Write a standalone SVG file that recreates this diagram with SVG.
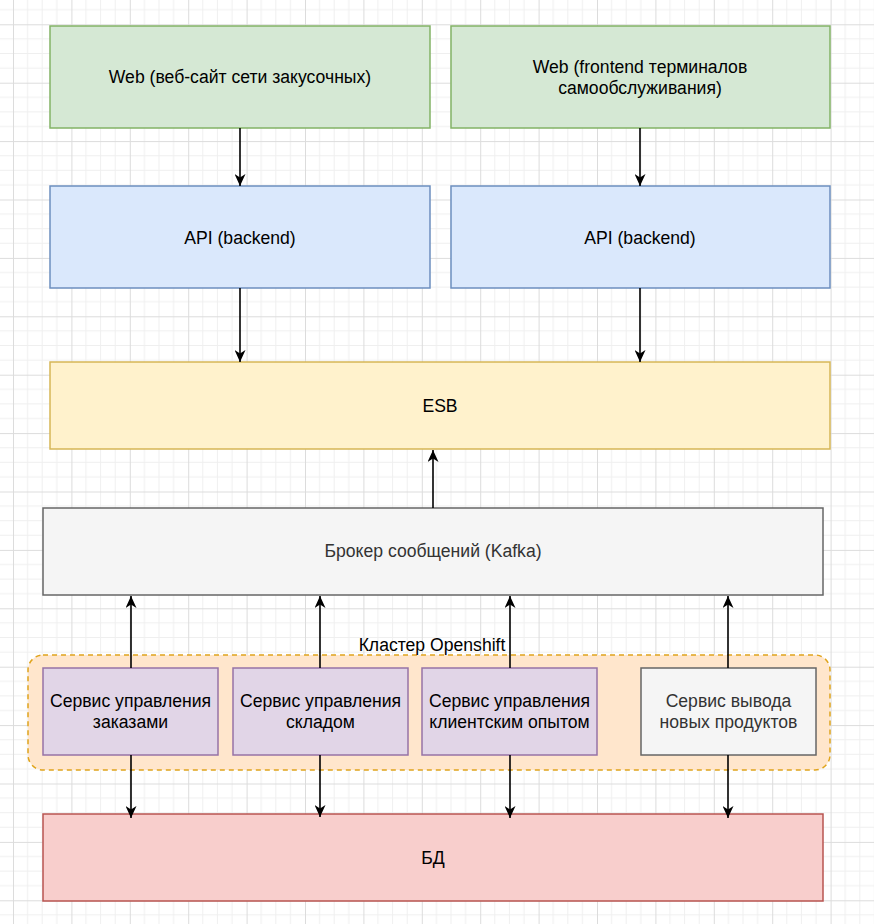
<svg xmlns="http://www.w3.org/2000/svg" width="874" height="924" viewBox="0 0 874 924">
<defs>
<pattern id="grid" x="13" y="24.3" width="58.4" height="58.4" patternUnits="userSpaceOnUse">
<path d="M14.6,0V58.4M29.2,0V58.4M43.8,0V58.4M0,14.6H58.4M0,29.2H58.4M0,43.8H58.4" stroke="#efefef" stroke-width="1" fill="none"/>
<path d="M0.5,0V58.4M0,0.5H58.4" stroke="#dcdcdc" stroke-width="1" fill="none"/>
</pattern>
<marker id="arr" markerUnits="userSpaceOnUse" markerWidth="13" markerHeight="11" viewBox="0 0 13 11" refX="12" refY="5.5" orient="auto-start-reverse">
<path d="M0,0 L12,5.5 L0,11 L3.5,5.5 z" fill="#000"/>
</marker>
<style>
text{font-family:"Liberation Sans",Arial,Helvetica,sans-serif;font-size:17.6px;fill:#000;text-anchor:middle;dominant-baseline:central}
.g{fill:#d5e8d4;stroke:#82b366;stroke-width:1.5}
.b{fill:#dae8fc;stroke:#6c8ebf;stroke-width:1.5}
.y{fill:#fff2cc;stroke:#d6b656;stroke-width:1.5}
.gr{fill:#f5f5f5;stroke:#666;stroke-width:1.5}
.p{fill:#e1d5e7;stroke:#9673a6;stroke-width:1.5}
.r{fill:#f8cecc;stroke:#b85450;stroke-width:1.5}
.c{fill:#ffe6cc;stroke:#e0a41c;stroke-width:1.5;stroke-dasharray:5 4}
.dk{fill:#333}
.e{stroke:#000;stroke-width:1.6;fill:none}
</style>
</defs>
<rect width="874" height="924" fill="#fff"/>
<rect width="874" height="924" fill="url(#grid)"/>

<g id="cluster">
<rect class="c" x="28" y="655" width="802" height="115" rx="15" ry="15"/>
<text x="432" y="645">Кластер Openshift</text>
</g>

<g id="web1"><rect class="g" x="50" y="26" width="380" height="102"/><text x="240" y="77">Web (веб-сайт сети закусочных)</text></g>
<g id="web2"><rect class="g" x="451" y="26" width="379" height="102"/><text x="640" y="67">Web (frontend терминалов</text><text x="640" y="88">самообслуживания)</text></g>
<g id="api1"><rect class="b" x="50" y="186" width="380" height="102"/><text x="240" y="238">API (backend)</text></g>
<g id="api2"><rect class="b" x="451" y="186" width="379" height="102"/><text x="640" y="238">API (backend)</text></g>
<g id="esb"><rect class="y" x="50" y="362" width="780" height="87"/><text x="440" y="406">ESB</text></g>
<g id="broker"><rect class="gr" x="43" y="508" width="780" height="87"/><text class="dk" x="433" y="551">Брокер сообщений (Kafka)</text></g>
<g id="svc1"><rect class="p" x="43" y="668" width="175" height="87"/><text x="130.5" y="701">Сервис управления</text><text x="130.5" y="722">заказами</text></g>
<g id="svc2"><rect class="p" x="233" y="668" width="175" height="87"/><text x="320.5" y="701">Сервис управления</text><text x="320.5" y="722">складом</text></g>
<g id="svc3"><rect class="p" x="422" y="668" width="175" height="87"/><text x="509.5" y="701">Сервис управления</text><text x="509.5" y="722">клиентским опытом</text></g>
<g id="svc4"><rect class="gr" x="641" y="668" width="175" height="87"/><text class="dk" x="728.5" y="701">Сервис вывода</text><text class="dk" x="728.5" y="722">новых продуктов</text></g>
<g id="db"><rect class="r" x="43" y="814" width="780" height="87"/><text x="433" y="858">БД</text></g>

<g id="connectors">
<path class="e" d="M240,128V186" marker-end="url(#arr)"/>
<path class="e" d="M640,128V186" marker-end="url(#arr)"/>
<path class="e" d="M240,288V362" marker-end="url(#arr)"/>
<path class="e" d="M640,288V362" marker-end="url(#arr)"/>
<path class="e" d="M433,508V450" marker-end="url(#arr)"/>
<path class="e" d="M131,668V596" marker-end="url(#arr)"/>
<path class="e" d="M320,668V596" marker-end="url(#arr)"/>
<path class="e" d="M510,668V596" marker-end="url(#arr)"/>
<path class="e" d="M728,668V596" marker-end="url(#arr)"/>
<path class="e" d="M131,755V818" marker-end="url(#arr)"/>
<path class="e" d="M320,755V817" marker-end="url(#arr)"/>
<path class="e" d="M510,755V818" marker-end="url(#arr)"/>
<path class="e" d="M728,755V818" marker-end="url(#arr)"/>
</g>
</svg>
